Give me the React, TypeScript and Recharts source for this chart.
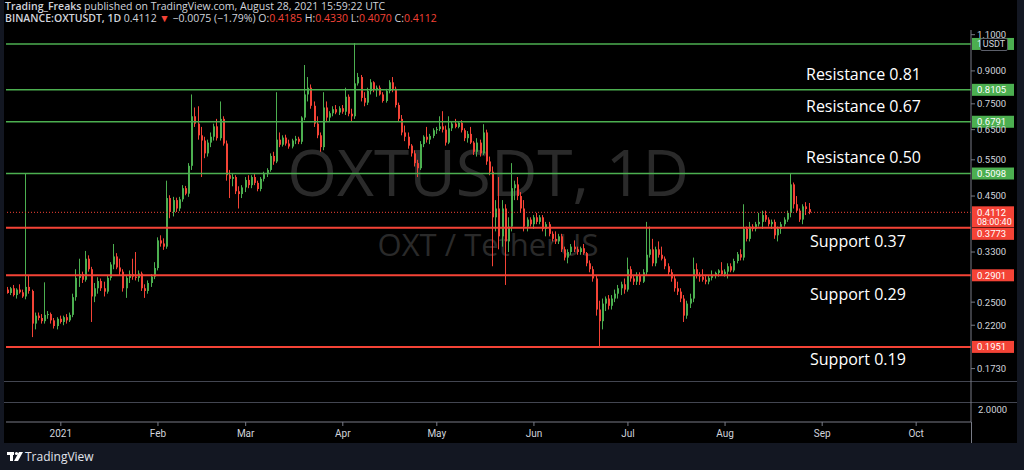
import { ComposedChart, Bar, XAxis, YAxis, ReferenceLine } from 'recharts'

const GREEN = '#4caf50'
const RED = '#f44336'
const TEXT = '#d1d4dc'
const AXIS = '#787b86'
const NAVY = '#131722'
const SANS = '"Open Sans", "Noto Sans", sans-serif'
const AXIS_FONT = 'Roboto, "Open Sans", sans-serif'

// daily candles, [open, high, low, close]
const dec2020 = [
  [0.268, 0.272, 0.262, 0.263], [0.263, 0.272, 0.26, 0.27], [0.27, 0.275, 0.258, 0.26], [0.26, 0.27, 0.255, 0.268],
  [0.268, 0.276, 0.262, 0.264], [0.264, 0.268, 0.256, 0.258], [0.258, 0.51, 0.254, 0.272], [0.272, 0.29, 0.262, 0.266],
  [0.266, 0.268, 0.206, 0.222], [0.222, 0.236, 0.215, 0.232], [0.232, 0.236, 0.226, 0.229], [0.229, 0.234, 0.222, 0.225],
  [0.225, 0.279, 0.222, 0.233], [0.233, 0.238, 0.228, 0.234], [0.234, 0.236, 0.222, 0.226], [0.226, 0.229, 0.216, 0.219],
  [0.219, 0.23, 0.215, 0.228],
]
const jan2021 = [
  [0.228, 0.232, 0.222, 0.224], [0.224, 0.232, 0.22, 0.23], [0.23, 0.234, 0.222, 0.226], [0.226, 0.236, 0.224, 0.233],
  [0.233, 0.262, 0.23, 0.257], [0.257, 0.3, 0.252, 0.286], [0.286, 0.318, 0.272, 0.292], [0.292, 0.296, 0.278, 0.283],
  [0.283, 0.332, 0.28, 0.318], [0.318, 0.324, 0.296, 0.3], [0.3, 0.304, 0.224, 0.258], [0.258, 0.278, 0.25, 0.27],
  [0.27, 0.287, 0.262, 0.281], [0.281, 0.285, 0.266, 0.27], [0.27, 0.28, 0.258, 0.265], [0.265, 0.29, 0.262, 0.286],
  [0.286, 0.312, 0.282, 0.308], [0.308, 0.345, 0.3, 0.322], [0.322, 0.328, 0.3, 0.303], [0.303, 0.318, 0.29, 0.296],
  [0.296, 0.3, 0.265, 0.27], [0.27, 0.29, 0.256, 0.286], [0.286, 0.298, 0.278, 0.292], [0.292, 0.318, 0.283, 0.288],
  [0.288, 0.33, 0.282, 0.286], [0.286, 0.298, 0.28, 0.293], [0.293, 0.296, 0.266, 0.27], [0.27, 0.276, 0.256, 0.266],
  [0.266, 0.282, 0.262, 0.278], [0.278, 0.292, 0.272, 0.288], [0.288, 0.312, 0.284, 0.302],
]
const feb2021 = [
  [0.302, 0.358, 0.298, 0.352], [0.352, 0.362, 0.34, 0.346], [0.346, 0.356, 0.334, 0.34], [0.34, 0.49, 0.336, 0.445],
  [0.445, 0.452, 0.398, 0.412], [0.412, 0.448, 0.402, 0.44], [0.44, 0.446, 0.412, 0.42], [0.42, 0.448, 0.414, 0.442],
  [0.442, 0.478, 0.436, 0.47], [0.47, 0.476, 0.452, 0.456], [0.456, 0.54, 0.448, 0.532], [0.532, 0.79, 0.52, 0.7],
  [0.7, 0.735, 0.66, 0.672], [0.672, 0.74, 0.615, 0.63], [0.63, 0.66, 0.5, 0.612], [0.612, 0.625, 0.555, 0.57],
  [0.57, 0.615, 0.56, 0.605], [0.605, 0.64, 0.59, 0.625], [0.625, 0.672, 0.612, 0.662], [0.662, 0.69, 0.612, 0.62],
  [0.62, 0.76, 0.612, 0.69], [0.69, 0.7, 0.595, 0.602], [0.602, 0.612, 0.49, 0.505], [0.505, 0.52, 0.445, 0.495],
  [0.495, 0.51, 0.475, 0.5], [0.5, 0.505, 0.455, 0.462], [0.462, 0.475, 0.42, 0.455], [0.455, 0.478, 0.445, 0.472],
]
const mar2021 = [
  [0.472, 0.5, 0.46, 0.492], [0.492, 0.505, 0.47, 0.478], [0.478, 0.505, 0.47, 0.5], [0.5, 0.508, 0.478, 0.484],
  [0.484, 0.49, 0.462, 0.468], [0.468, 0.5, 0.462, 0.495], [0.495, 0.515, 0.488, 0.508], [0.508, 0.525, 0.5, 0.52],
  [0.52, 0.57, 0.515, 0.562], [0.562, 0.575, 0.535, 0.545], [0.545, 0.8, 0.54, 0.615], [0.615, 0.64, 0.59, 0.598],
  [0.598, 0.63, 0.592, 0.622], [0.622, 0.632, 0.595, 0.602], [0.602, 0.615, 0.585, 0.592], [0.592, 0.618, 0.586, 0.612],
  [0.612, 0.628, 0.6, 0.618], [0.618, 0.625, 0.6, 0.608], [0.608, 0.7, 0.6, 0.695], [0.695, 0.93, 0.685, 0.79],
  [0.79, 0.87, 0.76, 0.82], [0.82, 0.835, 0.73, 0.742], [0.742, 0.76, 0.66, 0.672], [0.672, 0.7, 0.62, 0.63],
  [0.63, 0.64, 0.575, 0.59], [0.59, 0.8, 0.58, 0.735], [0.735, 0.76, 0.68, 0.695], [0.695, 0.72, 0.68, 0.712],
  [0.712, 0.74, 0.7, 0.728], [0.728, 0.745, 0.708, 0.715], [0.715, 0.74, 0.705, 0.732],
]
const apr2021 = [
  [0.732, 0.745, 0.71, 0.718], [0.718, 0.82, 0.705, 0.78], [0.78, 0.79, 0.7, 0.71], [0.71, 0.73, 0.68, 0.7],
  [0.7, 1.05, 0.69, 0.84], [0.84, 0.89, 0.83, 0.87], [0.87, 0.88, 0.76, 0.775], [0.775, 0.8, 0.74, 0.755],
  [0.755, 0.82, 0.745, 0.805], [0.805, 0.86, 0.79, 0.845], [0.845, 0.85, 0.8, 0.81], [0.81, 0.83, 0.78, 0.82],
  [0.82, 0.83, 0.785, 0.79], [0.79, 0.8, 0.755, 0.762], [0.762, 0.815, 0.755, 0.805], [0.805, 0.855, 0.795, 0.845],
  [0.845, 0.87, 0.8, 0.815], [0.815, 0.825, 0.735, 0.745], [0.745, 0.755, 0.68, 0.69], [0.69, 0.705, 0.63, 0.64],
  [0.64, 0.665, 0.61, 0.625], [0.625, 0.64, 0.585, 0.595], [0.595, 0.6, 0.56, 0.57], [0.57, 0.58, 0.53, 0.54],
  [0.54, 0.55, 0.5, 0.525], [0.525, 0.61, 0.52, 0.6], [0.6, 0.63, 0.59, 0.625], [0.625, 0.66, 0.605, 0.615],
  [0.615, 0.635, 0.6, 0.628], [0.628, 0.655, 0.62, 0.648],
]
const may2021 = [
  [0.648, 0.66, 0.635, 0.652], [0.652, 0.7, 0.645, 0.662], [0.662, 0.72, 0.64, 0.65], [0.65, 0.665, 0.595, 0.605],
  [0.605, 0.7, 0.6, 0.655], [0.655, 0.68, 0.645, 0.672], [0.672, 0.69, 0.655, 0.66], [0.66, 0.68, 0.655, 0.675],
  [0.675, 0.685, 0.64, 0.648], [0.648, 0.655, 0.61, 0.62], [0.62, 0.645, 0.605, 0.635], [0.635, 0.66, 0.6, 0.605],
  [0.605, 0.61, 0.565, 0.575], [0.575, 0.62, 0.56, 0.605], [0.605, 0.615, 0.56, 0.57], [0.57, 0.67, 0.565, 0.64],
  [0.64, 0.65, 0.535, 0.545], [0.545, 0.56, 0.505, 0.515], [0.515, 0.53, 0.305, 0.4], [0.4, 0.44, 0.37, 0.42],
  [0.42, 0.5, 0.335, 0.36], [0.36, 0.44, 0.34, 0.42], [0.42, 0.43, 0.275, 0.35], [0.35, 0.4, 0.33, 0.38],
  [0.38, 0.54, 0.37, 0.47], [0.47, 0.49, 0.44, 0.48], [0.48, 0.5, 0.44, 0.45], [0.45, 0.46, 0.41, 0.42],
  [0.42, 0.44, 0.37, 0.38], [0.38, 0.4, 0.37, 0.395], [0.395, 0.4, 0.38, 0.385],
]
const jun2021 = [
  [0.385, 0.405, 0.375, 0.4], [0.4, 0.41, 0.385, 0.39], [0.39, 0.405, 0.385, 0.4], [0.4, 0.405, 0.37, 0.375],
  [0.375, 0.39, 0.36, 0.385], [0.385, 0.39, 0.36, 0.365], [0.365, 0.37, 0.35, 0.355], [0.355, 0.37, 0.345, 0.35],
  [0.35, 0.365, 0.345, 0.36], [0.36, 0.365, 0.33, 0.335], [0.335, 0.34, 0.315, 0.32], [0.32, 0.335, 0.31, 0.33],
  [0.33, 0.345, 0.325, 0.34], [0.34, 0.352, 0.33, 0.335], [0.335, 0.34, 0.325, 0.33], [0.33, 0.34, 0.325, 0.337],
  [0.337, 0.345, 0.325, 0.328], [0.328, 0.33, 0.305, 0.31], [0.31, 0.315, 0.295, 0.3], [0.3, 0.305, 0.28, 0.285],
  [0.285, 0.29, 0.232, 0.24], [0.24, 0.252, 0.195, 0.225], [0.225, 0.255, 0.215, 0.248], [0.248, 0.258, 0.238, 0.255],
  [0.255, 0.26, 0.24, 0.245], [0.245, 0.26, 0.24, 0.255], [0.255, 0.268, 0.25, 0.262], [0.262, 0.275, 0.255, 0.27],
  [0.27, 0.28, 0.26, 0.276], [0.276, 0.285, 0.262, 0.268],
]
const jul2021 = [
  [0.268, 0.32, 0.265, 0.3], [0.3, 0.305, 0.28, 0.285], [0.285, 0.29, 0.275, 0.28], [0.28, 0.295, 0.275, 0.29],
  [0.29, 0.295, 0.275, 0.28], [0.28, 0.3, 0.278, 0.295], [0.295, 0.39, 0.29, 0.325], [0.325, 0.38, 0.32, 0.335],
  [0.335, 0.355, 0.305, 0.31], [0.31, 0.34, 0.305, 0.335], [0.335, 0.35, 0.32, 0.325], [0.325, 0.34, 0.315, 0.318],
  [0.318, 0.322, 0.3, 0.305], [0.305, 0.31, 0.29, 0.295], [0.295, 0.3, 0.28, 0.285], [0.285, 0.29, 0.265, 0.27],
  [0.27, 0.28, 0.26, 0.265], [0.265, 0.27, 0.25, 0.255], [0.255, 0.26, 0.224, 0.232], [0.232, 0.252, 0.228, 0.248],
  [0.248, 0.262, 0.242, 0.255], [0.255, 0.32, 0.25, 0.3], [0.3, 0.31, 0.285, 0.29], [0.29, 0.295, 0.28, 0.288],
  [0.288, 0.3, 0.28, 0.283], [0.283, 0.29, 0.276, 0.28], [0.28, 0.29, 0.276, 0.286], [0.286, 0.298, 0.282, 0.29],
  [0.29, 0.296, 0.285, 0.294], [0.294, 0.3, 0.288, 0.298], [0.298, 0.312, 0.29, 0.292],
]
const aug2021 = [
  [0.292, 0.3, 0.288, 0.296], [0.296, 0.31, 0.285, 0.305], [0.305, 0.31, 0.295, 0.298], [0.298, 0.318, 0.295, 0.314],
  [0.314, 0.33, 0.31, 0.326], [0.326, 0.335, 0.315, 0.32], [0.32, 0.43, 0.315, 0.375], [0.375, 0.38, 0.35, 0.355],
  [0.355, 0.39, 0.35, 0.38], [0.38, 0.385, 0.37, 0.375], [0.375, 0.39, 0.37, 0.385], [0.385, 0.41, 0.38, 0.39],
  [0.39, 0.415, 0.375, 0.405], [0.405, 0.415, 0.39, 0.395], [0.395, 0.4, 0.38, 0.385], [0.385, 0.395, 0.375, 0.39],
  [0.39, 0.395, 0.355, 0.362], [0.362, 0.38, 0.35, 0.375], [0.375, 0.39, 0.365, 0.385], [0.385, 0.4, 0.38, 0.395],
  [0.395, 0.415, 0.39, 0.41], [0.41, 0.51, 0.4, 0.48], [0.48, 0.485, 0.42, 0.43], [0.43, 0.45, 0.41, 0.415],
  [0.415, 0.42, 0.39, 0.395], [0.395, 0.43, 0.385, 0.425], [0.425, 0.435, 0.405, 0.4187], [0.4185, 0.433, 0.407, 0.4112],
]

const resistance = [1.045, 0.8105, 0.6791, 0.5098]
const support = [0.3773, 0.2901, 0.1951]
const lastPrice = 0.4112
const priceTicks = [1.1, 0.9, 0.75, 0.65, 0.55, 0.45, 0.33, 0.25, 0.22, 0.173]
const monthNames = ['2021', 'Feb', 'Mar', 'Apr', 'May', 'Jun', 'Jul', 'Aug', 'Sep', 'Oct', 'Nov', 'Dec']
const notes = [
  { text: 'Resistance 0.81', left: 806, top: 63 },
  { text: 'Resistance 0.67', left: 806, top: 95 },
  { text: 'Resistance 0.50', left: 806, top: 146 },
  { text: 'Support 0.37', left: 810, top: 230 },
  { text: 'Support 0.29', left: 810, top: 283 },
  { text: 'Support 0.19', left: 810, top: 348 },
]

const candles = [...dec2020, ...jan2021, ...feb2021, ...mar2021, ...apr2021, ...may2021, ...jun2021, ...jul2021, ...aug2021]
const firstDay = Date.UTC(2020, 11, 15)
const dayCount = 308

const monthLabels: Record<string, string> = {}
const rows = Array.from({ length: dayCount }, (_, i) => {
  const d = new Date(firstDay + i * 86400000)
  const date = d.toISOString().slice(0, 10)
  if (d.getUTCDate() === 1 && d.getUTCFullYear() === 2021) monthLabels[date] = monthNames[d.getUTCMonth()]
  const k = candles[i]
  if (!k) return { date, range: null }
  return { date, range: [k[2], k[1]], o: k[0], h: k[1], l: k[2], c: k[3] }
})

function Candle(props: any) {
  const { x, y, width, height, payload } = props
  if (!payload || payload.o == null || y == null) return <g />
  const top = Math.min(y, y + height)
  const bottom = Math.max(y, y + height)
  const lh = Math.log(payload.h)
  const span = lh - Math.log(payload.l) || 1
  const py = (v: number) => top + ((bottom - top) * (lh - Math.log(v))) / span
  const color = payload.c >= payload.o ? GREEN : RED
  const cx = Math.round(x + width / 2) - 1
  const yo = py(payload.o)
  const yc = py(payload.c)
  const bt = Math.min(yo, yc)
  return (
    <g>
      <rect x={cx} y={top} width={1} height={Math.max(1, bottom - top)} fill={color} />
      <rect x={cx} y={bt} width={2} height={Math.max(1, Math.abs(yc - yo))} fill={color} />
    </g>
  )
}

function Tag({ viewBox, text, fill, dy = 0, sub }: any) {
  if (!viewBox) return null
  const x = viewBox.x + viewBox.width + 1
  const y = viewBox.y + dy
  const h = sub ? 21 : 12
  return (
    <g>
      <rect x={x} y={y - 6} width={42} height={h} fill={fill} />
      <text x={x + 5} y={y + 3.5} fill="#fff" fontSize={9.5} fontFamily={AXIS_FONT}>{text}</text>
      {sub && <text x={x + 5} y={y + 13} fill="#fff" fontSize={9} fontFamily={AXIS_FONT}>{sub}</text>}
    </g>
  )
}

function MonthTick({ x, y, payload }: any) {
  const label = monthLabels[payload.value]
  if (!label) return <g />
  return (
    <g>
      <line x1={x} x2={x} y1={y} y2={y + 4} stroke={AXIS} />
      <text x={x} y={y + 15} textAnchor="middle" fill={TEXT} fontSize={10} fontFamily={AXIS_FONT}>{label}</text>
    </g>
  )
}

export default function App() {
  return (
    <div style={{ position: 'fixed', left: 0, top: 0, width: 1024, height: 470, background: NAVY, overflow: 'hidden', fontFamily: SANS }}>
      <div style={{ position: 'absolute', left: 4, top: 0, width: 1013, height: 443, background: '#000' }} />

      <div style={{ position: 'absolute', left: 5, top: 0, fontSize: 10.5, lineHeight: '12px', color: TEXT, whiteSpace: 'nowrap' }}>
        <div><b style={{ fontWeight: 600 }}>Trading_Freaks</b> published on TradingView.com, August 28, 2021 15:59:22 UTC</div>
        <div>
          <b style={{ fontWeight: 600 }}>BINANCE:OXTUSDT, 1D</b> 0.4112 <span style={{ color: RED }}>▼</span> −0.0075 (−1.79%) O:<span style={{ color: RED }}>0.4185</span> H:<span style={{ color: RED }}>0.4330</span> L:<span style={{ color: RED }}>0.4070</span> C:<span style={{ color: RED }}>0.4112</span>
        </div>
      </div>

      <div style={{ position: 'absolute', left: 0, width: 976, top: 132, textAlign: 'center', fontSize: 64, lineHeight: '80px', color: '#2a2a2a', whiteSpace: 'nowrap' }}>OXTUSDT, 1D</div>
      <div style={{ position: 'absolute', left: 0, width: 976, top: 224, textAlign: 'center', fontSize: 31, lineHeight: '40px', color: '#2a2a2a', whiteSpace: 'nowrap' }}>OXT / TetherUS</div>

      <div style={{ position: 'absolute', left: 4, top: 381, width: 1013, height: 1, background: '#434651' }} />
      <div style={{ position: 'absolute', left: 4, top: 402, width: 1013, height: 1, background: '#434651' }} />
      <div style={{ position: 'absolute', left: 971, top: 422, width: 1, height: 21, background: AXIS }} />
      <div style={{ position: 'absolute', left: 978, top: 404, fontSize: 9.5, color: TEXT, fontFamily: AXIS_FONT }}>2.0000</div>

      <div style={{ position: 'absolute', left: 0, top: 0 }}>
        <ComposedChart width={1024} height={470} data={rows} margin={{ top: 30, right: 8, bottom: 28, left: 6 }} barCategoryGap={0} barGap={0}>
          <XAxis dataKey="date" interval={0} tick={<MonthTick />} tickLine={false} tickSize={0} tickMargin={0} axisLine={{ stroke: AXIS }} height={20} />
          <YAxis
            orientation="right"
            scale="log"
            domain={[0.1287, 1.129]}
            allowDataOverflow
            ticks={priceTicks}
            interval={0}
            width={45}
            tickSize={4}
            tickMargin={2}
            tickFormatter={(v: number) => v.toFixed(4)}
            tick={{ fill: TEXT, fontSize: 9.5, fontFamily: AXIS_FONT }}
            tickLine={{ stroke: AXIS }}
            axisLine={{ stroke: AXIS }}
          />
          {resistance.map((v) => (
            <ReferenceLine key={v} y={v} stroke={GREEN} strokeWidth={1.5} label={<Tag text={v.toFixed(4)} fill={GREEN} />} />
          ))}
          {support.map((v, i) => (
            <ReferenceLine key={v} y={v} stroke={RED} strokeWidth={2} label={<Tag text={v.toFixed(4)} fill={RED} dy={i === 0 ? 6 : 0} />} />
          ))}
          <ReferenceLine y={lastPrice} stroke={RED} strokeDasharray="1 2" label={<Tag text={lastPrice.toFixed(4)} fill={RED} sub="08:00:40" />} />
          <Bar dataKey="range" shape={Candle} isAnimationActive={false} />
        </ComposedChart>
      </div>

      <div style={{ position: 'absolute', left: 980, top: 38, width: 26, height: 11, border: '1px solid #5d606b', borderRadius: 2, background: '#000', color: TEXT, fontSize: 9, lineHeight: '11px', textAlign: 'center', fontFamily: AXIS_FONT }}>USDT</div>

      {notes.map((n) => (
        <div key={n.text} style={{ position: 'absolute', left: n.left, top: n.top, fontSize: 16, lineHeight: '22px', color: '#fff', whiteSpace: 'nowrap' }}>{n.text}</div>
      ))}

      <svg style={{ position: 'absolute', left: 7, top: 451 }} width={18} height={12}>
        <rect x={0} y={1} width={7} height={3} fill="#fff" />
        <rect x={3} y={1} width={3} height={9} fill="#fff" />
        <circle cx={9.5} cy={2.5} r={1.6} fill="#fff" />
        <polygon points="12,1 16,1 11,10 7,10" fill="#fff" />
      </svg>
      <div style={{ position: 'absolute', left: 25, top: 449, fontSize: 12, lineHeight: '16px', color: '#e0e3eb', fontFamily: SANS }}>TradingView</div>
    </div>
  )
}
